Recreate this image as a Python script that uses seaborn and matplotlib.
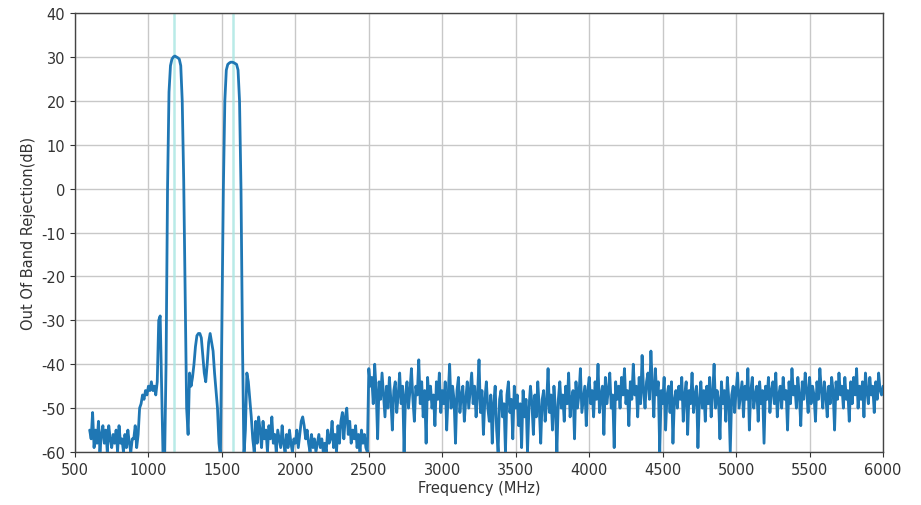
import numpy as np
import pandas as pd
import matplotlib
matplotlib.use("Agg")
import matplotlib.pyplot as plt
import seaborn as sns

# ---- data (10 MHz steps) ----
freq_start_mhz = 600
freq_step_mhz = 10

rej_600_990 = [-55, -57, -51, -59, -55, -58, -53, -60, -56, -54, -58, -55, -60, -54, -57, -59, -56, -58, -55, -60,
               -54, -58, -57, -60, -56, -59, -55, -58, -60, -57, -57, -54, -59, -56, -50, -49, -47, -48, -46, -47]
rej_1000_1390 = [-45, -46, -44, -46, -45, -47, -44, -30, -29, -45, -62, -62, -40, 0, 22, 28, 29.5, 30, 30.2, 30,
                 29.8, 29.5, 28, 20, 2, -25, -50, -56, -42, -45, -43, -40, -36, -33.5, -33, -33, -34, -38, -42, -44]
rej_1400_1790 = [-40, -35, -33, -35, -37, -42, -46, -50, -58, -61, -30, 0, 20, 27, 28.3, 28.6, 28.8, 28.8, 28.7, 28.5,
                 28.3, 27, 20, 0, -35, -61, -55, -42, -44, -48, -52, -57, -60, -53, -58, -52, -55, -59, -53, -57]
rej_1800_2190 = [-55, -60, -54, -57, -52, -58, -56, -60, -55, -57, -59, -54, -58, -60, -56, -59, -55, -58, -60, -57,
                 -58, -55, -59, -56, -53, -52, -54, -57, -55, -58, -60, -56, -59, -57, -60, -58, -56, -59, -57, -60]
rej_2200_2590 = [-58, -60, -55, -58, -57, -53, -59, -56, -60, -54, -58, -53, -51, -57, -52, -50, -56, -53, -58, -55,
                 -57, -54, -59, -56, -60, -55, -58, -56, -59, -60, -41, -45, -43, -49, -40, -46, -57, -44, -48, -42]
rej_2600_2990 = [-47, -52, -45, -50, -43, -48, -55, -46, -44, -51, -47, -42, -49, -45, -60, -47, -44, -50, -46, -41,
                 -48, -53, -45, -47, -39, -49, -44, -52, -46, -58, -43, -48, -45, -50, -47, -54, -44, -48, -42, -51]
rej_3000_3390 = [-46, -49, -44, -55, -47, -40, -50, -45, -48, -58, -46, -43, -51, -47, -45, -53, -48, -44, -50, -46,
                 -42, -49, -45, -52, -47, -39, -51, -46, -56, -48, -44, -50, -53, -47, -58, -49, -45, -55, -60, -48]
rej_3400_3790 = [-46, -52, -49, -60, -47, -44, -51, -48, -57, -45, -50, -47, -54, -49, -59, -46, -52, -48, -60, -50,
                 -45, -49, -56, -47, -52, -44, -50, -58, -48, -46, -53, -49, -41, -51, -47, -55, -45, -50, -60, -48]
rej_3800_4190 = [-44, -50, -47, -53, -45, -49, -42, -52, -48, -46, -57, -44, -50, -47, -41, -51, -48, -45, -54, -46,
                 -43, -49, -46, -52, -44, -48, -40, -51, -47, -45, -56, -43, -49, -46, -42, -50, -47, -59, -44, -48]
rej_4200_4590 = [-45, -50, -43, -47, -41, -49, -46, -54, -44, -48, -40, -47, -45, -52, -43, -49, -38, -46, -50, -44,
                 -42, -48, -37, -45, -52, -41, -47, -44, -60, -46, -49, -43, -55, -47, -45, -51, -44, -58, -48, -46]
rej_4600_4990 = [-50, -45, -48, -43, -53, -47, -44, -56, -46, -49, -42, -51, -47, -45, -59, -48, -44, -50, -46, -53,
                 -45, -49, -43, -52, -47, -40, -50, -46, -48, -57, -44, -49, -46, -53, -43, -48, -60, -47, -45, -51]
rej_5000_5390 = [-46, -42, -50, -47, -44, -52, -45, -48, -41, -55, -46, -43, -50, -47, -45, -53, -44, -49, -46, -58,
                 -45, -48, -43, -51, -46, -44, -49, -42, -52, -47, -45, -50, -43, -48, -46, -55, -44, -49, -41, -47]
rej_5400_5790 = [-45, -50, -43, -47, -54, -44, -48, -42, -46, -51, -43, -49, -45, -47, -53, -44, -48, -41, -46, -50,
                 -44, -47, -52, -45, -49, -43, -46, -55, -44, -48, -42, -47, -45, -50, -43, -48, -46, -53, -44, -49]
rej_5800_6000 = [-43, -47, -41, -50, -45, -48, -44, -52, -42, -46, -49, -43, -47, -45, -51, -44, -48, -42, -46, -47,
                 -45]

band_centers_mhz = [1176, 1575]
x_ticks = [500, 1000, 1500, 2000, 2500, 3000, 3500, 4000, 4500, 5000, 5500, 6000]
y_ticks = [-60, -50, -40, -30, -20, -10, 0, 10, 20, 30, 40]

rejection = (rej_600_990 + rej_1000_1390 + rej_1400_1790 + rej_1800_2190 + rej_2200_2590
             + rej_2600_2990 + rej_3000_3390 + rej_3400_3790 + rej_3800_4190 + rej_4200_4590
             + rej_4600_4990 + rej_5000_5390 + rej_5400_5790 + rej_5800_6000)
freq = freq_start_mhz + freq_step_mhz * np.arange(len(rejection))
df = pd.DataFrame({"Frequency (MHz)": freq, "Rejection": rejection})

# ---- plot ----
sns.set_style("ticks")
plt.rcParams["font.family"] = ["DejaVu Sans"]
plt.rcParams["axes.unicode_minus"] = False

fig = plt.figure(figsize=(9.21, 5.06), dpi=100)
ax = fig.add_axes([0.0814, 0.1047, 0.8774, 0.8676])

for c in band_centers_mhz:
    ax.axvline(c, color="#a8e6e2", lw=1.8, alpha=0.8, zorder=1)

sns.lineplot(data=df, x="Frequency (MHz)", y="Rejection", ax=ax,
             color="#1f77b4", linewidth=2.0, zorder=3)

ax.set_xlim(500, 6000)
ax.set_ylim(-60, 40)
ax.set_xticks(x_ticks)
ax.set_yticks(y_ticks)
ax.grid(True, color="#c8c8c8", linewidth=1.0)
ax.set_axisbelow(True)
ax.tick_params(labelsize=10.5, colors="#333333")
ax.set_xlabel("Frequency (MHz)", fontsize=10.5, color="#333333", labelpad=2)
ax.set_ylabel("Out Of Band Rejection(dB)", fontsize=10.5, color="#333333")
for s in ax.spines.values():
    s.set_color("#444444")
    s.set_linewidth(1.0)

fig.savefig("out.png", dpi=100)
